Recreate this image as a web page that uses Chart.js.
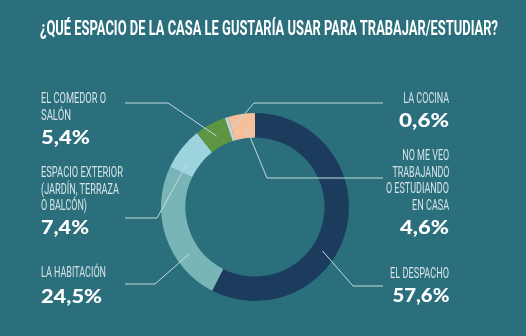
<!DOCTYPE html>
<html>
<head>
<meta charset="utf-8">
<script src="https://cdn.jsdelivr.net/npm/chart.js@4"></script>
<style>
html, body { margin: 0; padding: 0; background: #2b6e7c; }
#wrap { position: relative; width: 526px; height: 336px; overflow: hidden; background: #2b6e7c; }
#wrap canvas { position: absolute; left: 0; top: 0; }
.t { position: absolute; white-space: nowrap; line-height: 1; }
.title { font-family: Roboto, sans-serif; font-weight: 700; font-size: 20px; color: #ffffff; transform-origin: left center; }
.lab { font-family: Roboto, sans-serif; font-weight: 400; font-size: 14px; color: #d4e4e6; }
.pct { font-family: Lato, "DejaVu Sans", sans-serif; font-weight: 900; font-size: 18px; color: #ffffff; }
</style>
</head>
<body>
<div id="wrap">
  <canvas id="chart" width="526" height="336"></canvas>
</div>
<script>
// Data
const categories = ['El despacho', 'La habitación', 'Espacio exterior (jardín, terraza o balcón)',
    'El comedor o salón', 'La cocina', 'No me veo trabajando o estudiando en casa'];
const values = [57.6, 24.5, 7.4, 5.4, 0.6, 4.6];
const labelLines = [
    ['EL DESPACHO'],
    ['LA HABITACIÓN'],
    ['ESPACIO EXTERIOR', '(JARDÍN, TERRAZA', 'O BALCÓN)'],
    ['EL COMEDOR O', 'SALÓN'],
    ['LA COCINA'],
    ['NO ME VEO', 'TRABAJANDO', 'O ESTUDIANDO', 'EN CASA']
];
const titleText = '¿QUÉ ESPACIO DE LA CASA LE GUSTARÍA USAR PARA TRABAJAR/ESTUDIAR?';

// Styles / layout
const colors = ['#1c3c5e', '#78b5b7', '#9dd3dc', '#5d9543', '#c7d2d4', '#f5bf9b'];
const leaderAt = [0.594, 0.31, 0.27, 0.5, 0.5, 0.61];
const elbows = [[353, 286], [155, 284], [157, 218], [168, 103], [254, 103], [267, 178]];
const ends = [[383, 286], [125, 284], [125, 218], [125, 103], [383, 103], [383, 178]];
const side = ['right', 'left', 'left', 'left', 'right', 'right'];
const firstBaseline = [278, 277, 177, 103, 103, 160];
const pctBaseline = [301, 302, 233, 143, 126, 233];
const labelWidths = [[59], [65], [82, 78, 46], [65, 30], [46], [47, 57, 63, 37]];
const pctWidths = [57, 61, 48, 49, 50, 49];

const wrap = document.getElementById('wrap');

function addText(text, cls, x, baseline, size, align, width) {
    const el = document.createElement('div');
    el.className = 't ' + cls;
    el.textContent = text;
    el.style.top = (baseline - size * 0.84) + 'px';
    if (align === 'right') {
        el.style.right = (526 - x) + 'px';
        el.style.transformOrigin = 'right center';
    } else {
        el.style.left = x + 'px';
        el.style.transformOrigin = 'left center';
    }
    wrap.appendChild(el);
    const w = el.getBoundingClientRect().width;
    if (width && w > 0) el.style.transform = 'scaleX(' + (width / w) + ')';
}

addText(titleText, 'title', 40, 35, 20, 'left', 458);

labelLines.forEach((lines, i) => {
    const x = side[i] === 'left' ? 41 : 449;
    lines.forEach((line, j) => {
        addText(line, 'lab', x, firstBaseline[i] + j * 16.5, 14, side[i], labelWidths[i][j]);
    });
    const pct = values[i].toFixed(1).replace('.', ',') + '%';
    addText(pct, 'pct', x, pctBaseline[i], 18, side[i], pctWidths[i]);
});

// Leader lines from each slice to its label
const leaders = {
    id: 'leaders',
    afterDatasetsDraw(chart) {
        const ctx = chart.ctx;
        const meta = chart.getDatasetMeta(0);
        ctx.save();
        ctx.strokeStyle = '#c3dcdf';
        ctx.lineWidth = 1;
        meta.data.forEach((arc, i) => {
            const p = arc.getProps(['x', 'y', 'startAngle', 'endAngle', 'innerRadius', 'outerRadius']);
            const a = p.startAngle + (p.endAngle - p.startAngle) * leaderAt[i];
            const r = p.innerRadius + (p.outerRadius - p.innerRadius) * 0.45;
            ctx.beginPath();
            ctx.moveTo(p.x + Math.cos(a) * r, p.y + Math.sin(a) * r);
            ctx.lineTo(elbows[i][0], elbows[i][1]);
            ctx.lineTo(ends[i][0], ends[i][1]);
            ctx.stroke();
        });
        ctx.restore();
    }
};

new Chart(document.getElementById('chart').getContext('2d'), {
    type: 'doughnut',
    data: {
        labels: categories,
        datasets: [{
            data: values,
            backgroundColor: colors,
            borderWidth: 0
        }]
    },
    options: {
        responsive: false,
        animation: false,
        cutout: '74%',
        layout: {
            padding: { left: 161, right: 177, top: 113, bottom: 35 }
        },
        plugins: {
            legend: { display: false },
            tooltip: { enabled: false }
        }
    },
    plugins: [leaders]
});
</script>
</body>
</html>
